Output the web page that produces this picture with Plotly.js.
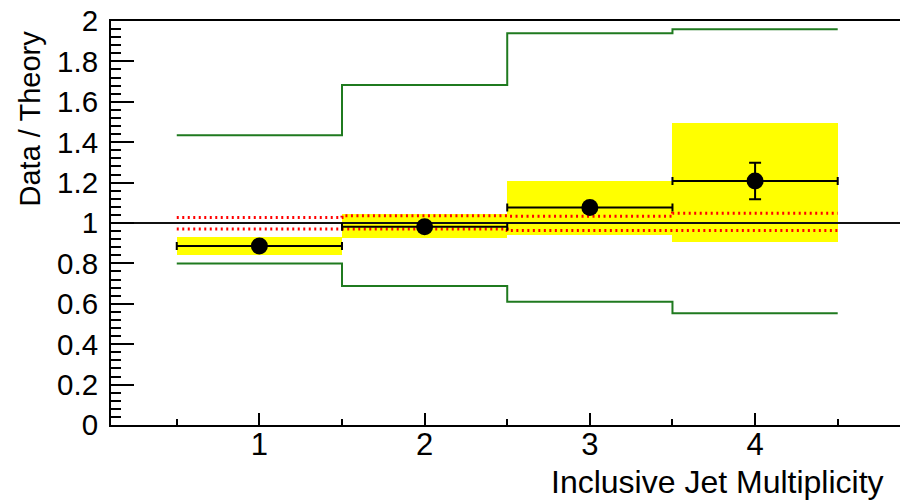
<!DOCTYPE html>
<html>
<head>
<meta charset="utf-8">
<script src="https://cdn.plot.ly/plotly-3.0.1.min.js"></script>
<style>
  html, body { margin: 0; padding: 0; background: #fff; }
  #chart { width: 900px; height: 501px; }
</style>
</head>
<body>
<div id="chart"></div>
<script>
// Jet multiplicity bins and bin edges
const bins = [1, 2, 3, 4];
const binEdges = [0.5, 1.5, 2.5, 3.5, 4.5];

// Data / theory ratio with statistical errors
const ratio = [0.886, 0.982, 1.077, 1.208];
const statErr = [0.015, 0.015, 0.02, 0.09];
const binHalfWidth = [0.5, 0.5, 0.5, 0.5];

// Systematic band (yellow)
const systLow = [0.842, 0.924, 0.943, 0.905];
const systHigh = [0.932, 1.045, 1.209, 1.497];

// Theory uncertainty (red dotted)
const theoUp = [1.027, 1.036, 1.034, 1.048];
const theoDown = [0.970, 0.970, 0.963, 0.963];

// Alternative theory envelope (green)
const envUp = [1.434, 1.683, 1.939, 1.959];
const envDown = [0.800, 0.688, 0.610, 0.553];

const xRange = [0.102, 4.877];
const yRange = [0, 2];

// step-line helper: repeat the last bin value so the last bin gets drawn
const stepY = v => v.concat([v[v.length - 1]]);

const green = '#1f7a1f';
const font = 'Liberation Sans, Arial, Helvetica, sans-serif';

const traces = [
  {
    type: 'bar',
    x: bins,
    base: systLow,
    y: systHigh.map((h, i) => h - systLow[i]),
    width: 1,
    marker: { color: '#ffff00', line: { width: 0 } },
    hoverinfo: 'skip'
  },
  {
    type: 'scatter', mode: 'lines',
    x: binEdges, y: stepY(theoUp),
    line: { shape: 'hv', color: '#ff0000', width: 3, dash: '2px,3.5px' },
    hoverinfo: 'skip'
  },
  {
    type: 'scatter', mode: 'lines',
    x: binEdges, y: stepY(theoDown),
    line: { shape: 'hv', color: '#ff0000', width: 3, dash: '2px,3.5px' },
    hoverinfo: 'skip'
  },
  {
    type: 'scatter', mode: 'lines',
    x: xRange, y: [1, 1],
    line: { color: '#111', width: 2 },
    hoverinfo: 'skip'
  },
  {
    type: 'scatter', mode: 'lines',
    x: binEdges, y: stepY(envUp),
    line: { shape: 'hv', color: green, width: 2 },
    hoverinfo: 'skip'
  },
  {
    type: 'scatter', mode: 'lines',
    x: binEdges, y: stepY(envDown),
    line: { shape: 'hv', color: green, width: 2 },
    hoverinfo: 'skip'
  },
  {
    type: 'scatter', mode: 'markers',
    x: bins, y: ratio,
    marker: { color: '#000', size: 17 },
    error_x: { type: 'data', array: binHalfWidth, color: '#000', thickness: 2, width: 4 },
    error_y: { type: 'data', array: statErr, color: '#000', thickness: 2, width: 6 }
  }
];

const layout = {
  width: 900,
  height: 501,
  margin: { l: 111, r: 0, t: 21, b: 76 },
  paper_bgcolor: '#fff',
  plot_bgcolor: '#fff',
  showlegend: false,
  bargap: 0,
  font: { family: font, color: '#000' },
  xaxis: {
    range: xRange,
    showgrid: false, zeroline: false,
    showline: true, linecolor: '#000', linewidth: 2, mirror: true,
    ticks: 'inside', ticklen: 12, tickwidth: 2, tickcolor: '#000',
    tickmode: 'array', tickvals: bins, ticktext: bins.map(String),
    minor: { tickmode: 'array', tickvals: binEdges, ticks: 'inside', ticklen: 6, tickwidth: 2, tickcolor: '#000' },
    tickfont: { size: 31, family: font, color: '#000' },
    ticklabelstandoff: -9
  },
  yaxis: {
    range: yRange,
    showgrid: false, zeroline: false,
    showline: true, linecolor: '#000', linewidth: 2, mirror: false,
    ticks: 'inside', ticklen: 23, tickwidth: 2, tickcolor: '#000',
    tick0: 0, dtick: 0.2,
    minor: { dtick: 0.04, tick0: 0, ticks: 'inside', ticklen: 10, tickwidth: 2, tickcolor: '#000' },
    tickfont: { size: 29.5, family: font, color: '#000' },
    ticklabelstandoff: 5
  },
  annotations: [
    {
      text: 'Data / Theory',
      xref: 'paper', yref: 'paper',
      x: -0.1033, y: 0.9827,
      xanchor: 'center', yanchor: 'top',
      textangle: -90, showarrow: false,
      font: { size: 29, family: font, color: '#000' }
    },
    {
      text: 'Inclusive Jet Multiplicity',
      xref: 'paper', yref: 'paper',
      x: 0.9823, y: -0.141,
      xanchor: 'right', yanchor: 'middle',
      showarrow: false,
      font: { size: 32, family: font, color: '#000' }
    }
  ]
};

Plotly.newPlot('chart', traces, layout, { staticPlot: true, displayModeBar: false });
</script>
</body>
</html>
